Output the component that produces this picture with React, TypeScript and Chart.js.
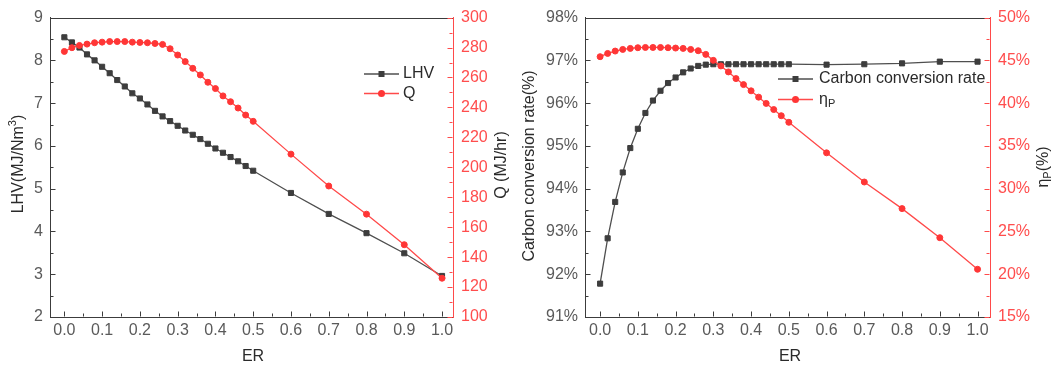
import React, { useEffect, useRef } from "react";
import { Chart, registerables } from "chart.js";

Chart.register(...registerables);

// Equivalence ratio sampling points
const erValues = [
  0, 0.02, 0.04, 0.06, 0.08, 0.1, 0.12, 0.14, 0.16, 0.18, 0.2, 0.22, 0.24, 0.26, 0.28, 0.3,
  0.32, 0.34, 0.36, 0.38, 0.4, 0.42, 0.44, 0.46, 0.48, 0.5, 0.6, 0.7, 0.8, 0.9, 1.0,
];
const erTicks = [0, 0.1, 0.2, 0.3, 0.4, 0.5, 0.6, 0.7, 0.8, 0.9, 1.0];

// Lower heating value of the gas, MJ/Nm3
const lhv = [
  8.54, 8.42, 8.3, 8.14, 8.0, 7.85, 7.7, 7.54, 7.39, 7.23, 7.11, 6.97, 6.82, 6.69, 6.58, 6.47,
  6.36, 6.26, 6.16, 6.05, 5.94, 5.84, 5.74, 5.64, 5.53, 5.42, 4.9, 4.41, 3.96, 3.49, 2.96,
];
// Heat output, MJ/hr
const heatQ = [
  277.4, 279.9, 281.4, 282.3, 283.2, 283.6, 284.0, 284.0, 284.0, 283.6, 283.4, 283.2, 282.7,
  282.1, 279.2, 275.0, 270.6, 266.1, 261.7, 256.8, 252.6, 247.7, 243.8, 239.6, 234.9, 230.7,
  208.8, 187.5, 168.7, 148.3, 125.9,
];
// Carbon conversion rate, %
const carbonRate = [
  91.78, 92.84, 93.69, 94.38, 94.95, 95.4, 95.77, 96.06, 96.29, 96.47, 96.6, 96.72, 96.81,
  96.87, 96.9, 96.91, 96.91, 96.91, 96.91, 96.91, 96.91, 96.91, 96.91, 96.91, 96.91, 96.91,
  96.9, 96.91, 96.93, 96.97, 96.97,
];
// Process efficiency, %
const etaP = [
  45.43, 45.81, 46.09, 46.28, 46.4, 46.48, 46.51, 46.51, 46.51, 46.48, 46.44, 46.4, 46.28,
  46.13, 45.7, 45.0, 44.35, 43.65, 42.87, 42.17, 41.44, 40.7, 39.97, 39.25, 38.53, 37.76,
  34.19, 30.78, 27.67, 24.27, 20.58,
];

const FONT = '"Liberation Sans", Arial, Helvetica, sans-serif';
const AXIS_DARK = "#3c3c3c";
const TICK_TEXT = "#5a5a5a";
const TITLE_TEXT = "#2a2a2a";
const SERIES_DARK = "#3d3d3d";
const LINE_DARK = "#4f4f4f";
const RED = "#ff3636";
const RED_LINE = "#ff4a4a";
const RED_TEXT = "#ff4d4d";

type Part = { t: string; size: number; dy?: number };

function drawRich(
  ctx: CanvasRenderingContext2D,
  parts: Part[],
  x: number,
  y: number,
  color: string,
  rotated: boolean,
  align: "center" | "left"
) {
  ctx.save();
  ctx.fillStyle = color;
  ctx.textBaseline = "middle";
  ctx.textAlign = "left";
  const widths = parts.map((p) => {
    ctx.font = `${p.size}px ${FONT}`;
    return ctx.measureText(p.t).width;
  });
  const total = widths.reduce((a, b) => a + b, 0);
  ctx.translate(x, y);
  if (rotated) ctx.rotate(-Math.PI / 2);
  let cx = align === "center" ? -total / 2 : 0;
  parts.forEach((p, i) => {
    ctx.font = `${p.size}px ${FONT}`;
    ctx.fillText(p.t, cx, p.dy || 0);
    cx += widths[i];
  });
  ctx.restore();
}

type AxisTicks = { majors: number[]; minors: number[] };

type LegendEntry = { parts: Part[]; line: string; fill: string; marker: "rect" | "circle" };

type PanelSpec = {
  width: number;
  xRange: [number, number];
  leftWidth: number;
  rightWidth: number;
  left: { min: number; max: number; step: number; suffix: string; ticks: AxisTicks };
  right: { min: number; max: number; step: number; suffix: string; ticks: AxisTicks };
  leftTitle: { parts: Part[]; x: number; y: number };
  rightTitle: { parts: Part[]; x: number; y: number };
  xTitle: { x: number; y: number };
  legend: { x0: number; x1: number; textX: number; rows: number[]; entries: LegendEntry[] };
  darkSeries: { label: string; values: number[] };
  redSeries: { label: string; values: number[] };
};

function range(a: number, b: number, step: number): number[] {
  const out: number[] = [];
  const n = Math.round((b - a) / step);
  for (let i = 0; i <= n; i++) out.push(+(a + i * step).toFixed(6));
  return out;
}

const xTickMarks: AxisTicks = {
  majors: erTicks,
  minors: range(0.05, 0.95, 0.1),
};

const leftPanel: PanelSpec = {
  width: 515,
  xRange: [-0.038, 1.029],
  leftWidth: 50,
  rightWidth: 62,
  left: {
    min: 2, max: 9, step: 1, suffix: "",
    ticks: { majors: range(2, 9, 1), minors: range(2.5, 8.5, 1) },
  },
  right: {
    min: 100, max: 300, step: 20, suffix: "",
    ticks: { majors: range(100, 300, 20), minors: range(110, 290, 20) },
  },
  leftTitle: {
    parts: [
      { t: "LHV(MJ/Nm", size: 16 },
      { t: "3", size: 11, dy: -6 },
      { t: ")", size: 16 },
    ],
    x: 19, y: 164,
  },
  rightTitle: { parts: [{ t: "Q (MJ/hr)", size: 16 }], x: 502, y: 165 },
  xTitle: { x: 253, y: 357 },
  legend: {
    x0: 364, x1: 399, textX: 403, rows: [74, 93.5],
    entries: [
      { parts: [{ t: "LHV", size: 16 }], line: LINE_DARK, fill: SERIES_DARK, marker: "rect" },
      { parts: [{ t: "Q", size: 16 }], line: RED_LINE, fill: RED, marker: "circle" },
    ],
  },
  darkSeries: { label: "LHV", values: lhv },
  redSeries: { label: "Q", values: heatQ },
};

const rightPanel: PanelSpec = {
  width: 539,
  xRange: [-0.04, 1.033],
  leftWidth: 70,
  rightWidth: 64,
  left: {
    min: 91, max: 98, step: 1, suffix: "%",
    ticks: { majors: range(91, 98, 1), minors: range(91.5, 97.5, 1) },
  },
  right: {
    min: 15, max: 50, step: 5, suffix: "%",
    ticks: { majors: range(15, 50, 5), minors: range(17.5, 47.5, 5) },
  },
  leftTitle: { parts: [{ t: "Carbon conversion rate(%)", size: 16 }], x: 15, y: 166 },
  rightTitle: {
    parts: [
      { t: "η", size: 16 },
      { t: "P", size: 11, dy: 4 },
      { t: "(%)", size: 16 },
    ],
    x: 529, y: 167,
  },
  xTitle: { x: 275, y: 357 },
  legend: {
    x0: 263, x1: 298, textX: 304, rows: [79, 99.5],
    entries: [
      {
        parts: [{ t: "Carbon conversion rate", size: 16 }],
        line: LINE_DARK, fill: SERIES_DARK, marker: "rect",
      },
      {
        parts: [
          { t: "η", size: 16 },
          { t: "P", size: 11, dy: 4 },
        ],
        line: RED_LINE, fill: RED, marker: "circle",
      },
    ],
  },
  darkSeries: { label: "Carbon conversion rate", values: carbonRate },
  redSeries: { label: "ηP", values: etaP },
};

// Frame, inward tick marks, axis titles and legend drawn on top of the plot
function decorPlugin(spec: PanelSpec) {
  return {
    id: "panelDecor",
    afterDraw(chart: Chart) {
      const ctx = chart.ctx;
      const { left, right, top, bottom } = chart.chartArea;
      const xs = chart.scales.x;
      const yl = chart.scales.y;
      const yr = chart.scales.y1;
      ctx.save();
      ctx.lineWidth = 1;

      // top frame line
      ctx.strokeStyle = AXIS_DARK;
      ctx.beginPath();
      ctx.moveTo(left, Math.round(top) + 0.5);
      ctx.lineTo(right, Math.round(top) + 0.5);
      ctx.stroke();

      const b = Math.round(bottom) - 0.5;
      const l = Math.round(left) + 0.5;
      const r = Math.round(right) - 0.5;

      // x axis ticks (inward)
      ctx.strokeStyle = AXIS_DARK;
      ctx.beginPath();
      xTickMarks.majors.forEach((v) => {
        const px = Math.round(xs.getPixelForValue(v)) + 0.5;
        ctx.moveTo(px, b);
        ctx.lineTo(px, b - 5);
      });
      xTickMarks.minors.forEach((v) => {
        const px = Math.round(xs.getPixelForValue(v)) + 0.5;
        ctx.moveTo(px, b);
        ctx.lineTo(px, b - 3);
      });
      // left y ticks
      spec.left.ticks.majors.forEach((v) => {
        const py = Math.round(yl.getPixelForValue(v)) + 0.5;
        ctx.moveTo(l, py);
        ctx.lineTo(l + 5, py);
      });
      spec.left.ticks.minors.forEach((v) => {
        const py = Math.round(yl.getPixelForValue(v)) + 0.5;
        ctx.moveTo(l, py);
        ctx.lineTo(l + 3, py);
      });
      ctx.stroke();

      // right y ticks in red
      ctx.strokeStyle = RED_LINE;
      ctx.beginPath();
      spec.right.ticks.majors.forEach((v) => {
        const py = Math.round(yr.getPixelForValue(v)) + 0.5;
        ctx.moveTo(r, py);
        ctx.lineTo(r - 5, py);
      });
      spec.right.ticks.minors.forEach((v) => {
        const py = Math.round(yr.getPixelForValue(v)) + 0.5;
        ctx.moveTo(r, py);
        ctx.lineTo(r - 3, py);
      });
      ctx.stroke();
      ctx.restore();

      // axis titles
      drawRich(ctx, spec.leftTitle.parts, spec.leftTitle.x, spec.leftTitle.y, TITLE_TEXT, true, "center");
      drawRich(ctx, spec.rightTitle.parts, spec.rightTitle.x, spec.rightTitle.y, TITLE_TEXT, true, "center");
      drawRich(ctx, [{ t: "ER", size: 16 }], spec.xTitle.x, spec.xTitle.y, TITLE_TEXT, false, "center");

      // legend
      const lg = spec.legend;
      lg.entries.forEach((e, i) => {
        const y = lg.rows[i];
        ctx.save();
        ctx.strokeStyle = e.line;
        ctx.lineWidth = 1.3;
        ctx.beginPath();
        ctx.moveTo(lg.x0, y);
        ctx.lineTo(lg.x1, y);
        ctx.stroke();
        ctx.fillStyle = e.fill;
        const mx = (lg.x0 + lg.x1) / 2;
        if (e.marker === "rect") {
          ctx.fillRect(mx - 3, y - 3, 6, 6);
        } else {
          ctx.beginPath();
          ctx.arc(mx, y, 3.5, 0, Math.PI * 2);
          ctx.fill();
        }
        ctx.restore();
        drawRich(ctx, e.parts, lg.textX, y, TITLE_TEXT, false, "left");
      });
    },
  };
}

function buildChart(canvas: HTMLCanvasElement, spec: PanelSpec): Chart {
  const pts = (vals: number[]) => erValues.map((x, i) => ({ x, y: vals[i] }));
  return new Chart(canvas, {
    type: "line",
    data: {
      datasets: [
        {
          label: spec.redSeries.label,
          data: pts(spec.redSeries.values),
          yAxisID: "y1",
          borderColor: RED_LINE,
          backgroundColor: RED,
          pointBackgroundColor: RED,
          pointBorderColor: RED,
          pointStyle: "circle",
          pointRadius: 3,
          pointBorderWidth: 1,
          borderWidth: 1.3,
          tension: 0,
          order: 0,
        },
        {
          label: spec.darkSeries.label,
          data: pts(spec.darkSeries.values),
          yAxisID: "y",
          borderColor: LINE_DARK,
          backgroundColor: SERIES_DARK,
          pointBackgroundColor: SERIES_DARK,
          pointBorderColor: SERIES_DARK,
          pointStyle: "rect",
          pointRadius: 3.6,
          pointBorderWidth: 1,
          borderWidth: 1.3,
          tension: 0,
          order: 1,
        },
      ],
    },
    options: {
      responsive: false,
      animation: false,
      devicePixelRatio: 1,
      layout: { padding: { top: 16, left: 0, right: 0, bottom: 0 } },
      plugins: { legend: { display: false }, tooltip: { enabled: false } },
      scales: {
        x: {
          type: "linear",
          min: spec.xRange[0],
          max: spec.xRange[1],
          grid: { display: false, drawTicks: false },
          border: { display: true, color: AXIS_DARK, width: 1 },
          ticks: {
            autoSkip: false,
            maxRotation: 0,
            padding: 4,
            color: TICK_TEXT,
            font: { family: FONT, size: 16 },
            callback: (v: any) => Number(v).toFixed(1),
          },
          afterBuildTicks: (scale: any) => {
            scale.ticks = erTicks.map((v) => ({ value: v }));
          },
          afterFit: (scale: any) => {
            scale.height = 50;
          },
        },
        y: {
          type: "linear",
          position: "left",
          min: spec.left.min,
          max: spec.left.max,
          grid: { display: false, drawTicks: false },
          border: { display: true, color: AXIS_DARK, width: 1 },
          ticks: {
            stepSize: spec.left.step,
            padding: 7,
            color: TICK_TEXT,
            font: { family: FONT, size: 16 },
            callback: (v: any) => `${v}${spec.left.suffix}`,
          },
          afterFit: (scale: any) => {
            scale.width = spec.leftWidth;
          },
        },
        y1: {
          type: "linear",
          position: "right",
          min: spec.right.min,
          max: spec.right.max,
          grid: { display: false, drawTicks: false },
          border: { display: true, color: RED_LINE, width: 1 },
          ticks: {
            stepSize: spec.right.step,
            padding: 8,
            color: RED_TEXT,
            font: { family: FONT, size: 16 },
            callback: (v: any) => `${v}${spec.right.suffix}`,
          },
          afterFit: (scale: any) => {
            scale.width = spec.rightWidth;
          },
        },
      },
    },
    plugins: [decorPlugin(spec)],
  } as any);
}

export default function App() {
  const leftRef = useRef<HTMLCanvasElement>(null);
  const rightRef = useRef<HTMLCanvasElement>(null);

  useEffect(() => {
    const charts: Chart[] = [];
    if (leftRef.current) charts.push(buildChart(leftRef.current, leftPanel));
    if (rightRef.current) charts.push(buildChart(rightRef.current, rightPanel));
    return () => charts.forEach((c) => c.destroy());
  }, []);

  return (
    <div
      style={{
        position: "absolute",
        left: 0,
        top: 0,
        width: 1054,
        height: 367,
        background: "#ffffff",
        overflow: "hidden",
      }}
    >
      <canvas
        ref={leftRef}
        width={leftPanel.width}
        height={367}
        style={{ position: "absolute", left: 0, top: 0 }}
      />
      <canvas
        ref={rightRef}
        width={rightPanel.width}
        height={367}
        style={{ position: "absolute", left: leftPanel.width, top: 0 }}
      />
    </div>
  );
}
